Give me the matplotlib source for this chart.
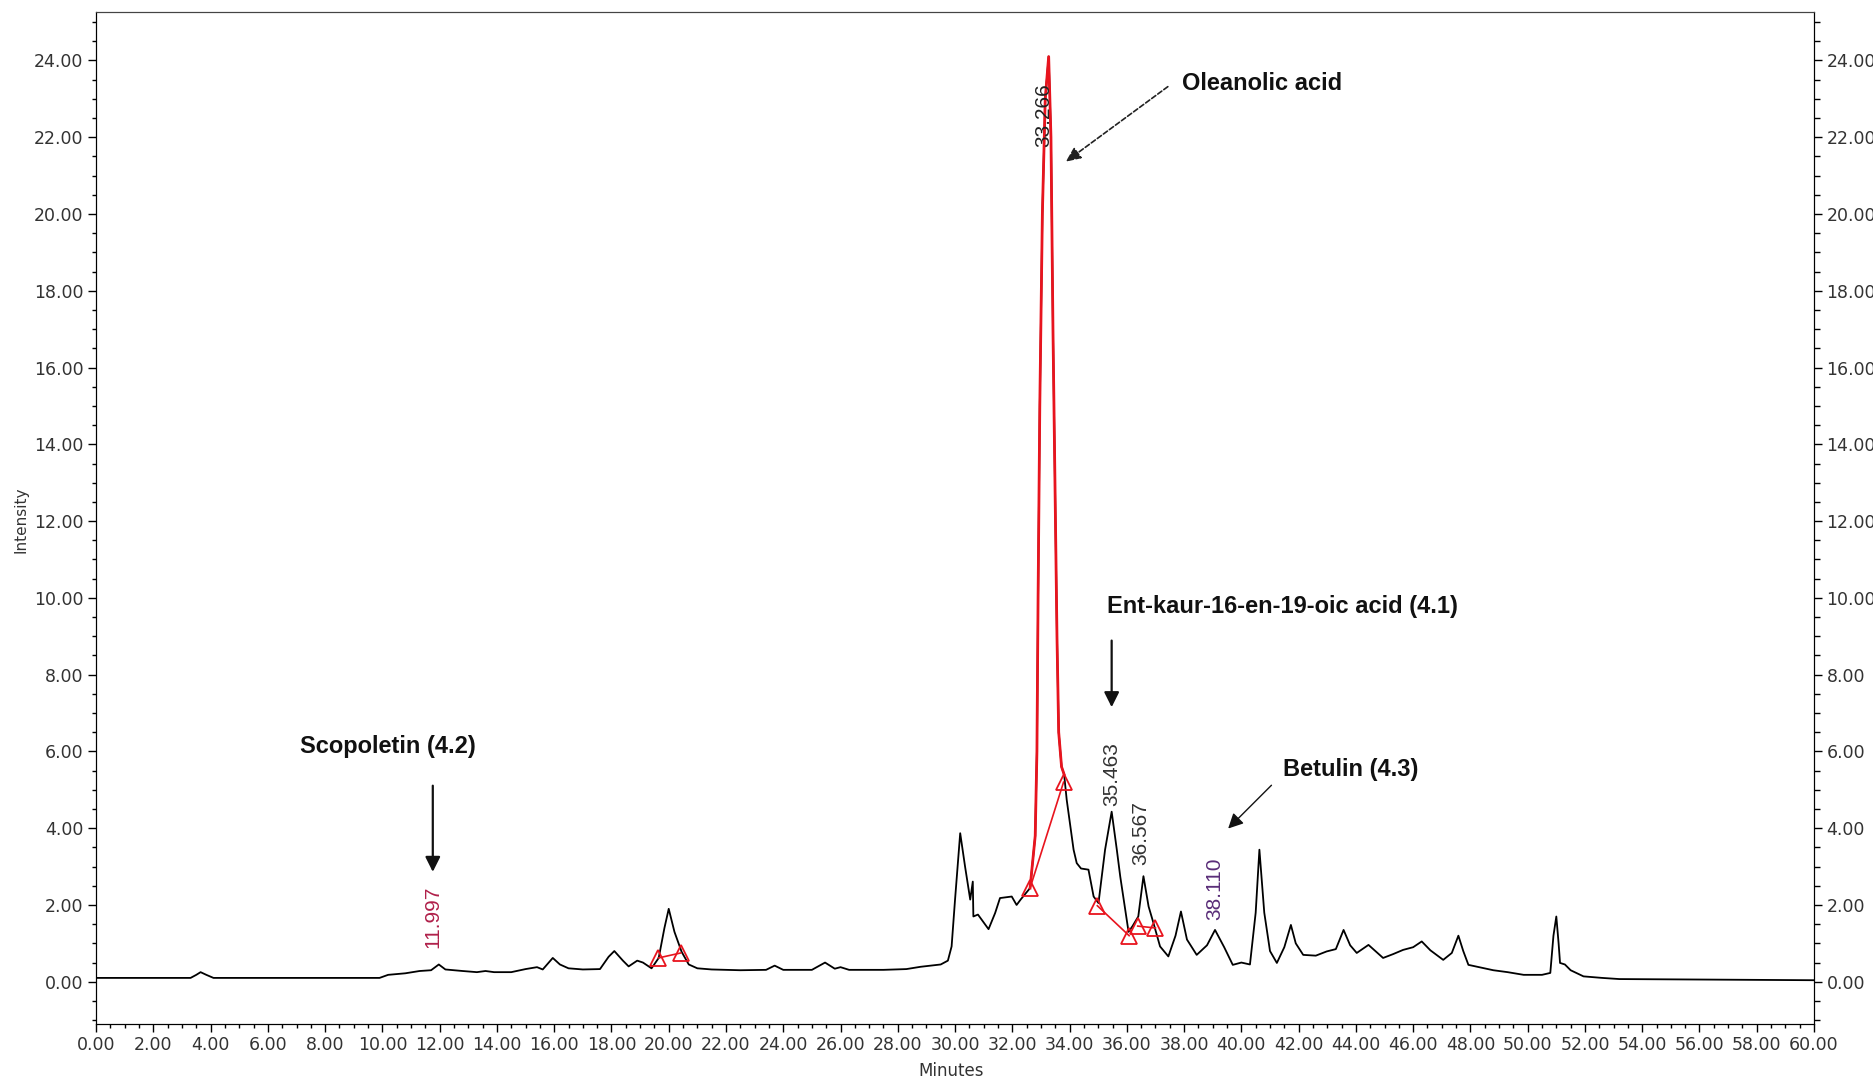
import numpy as np
import matplotlib
matplotlib.use("Agg")
import matplotlib.pyplot as plt
from matplotlib.ticker import MultipleLocator, FormatStrFormatter

# chromatogram trace (minutes, intensity)
times = [0.0, 3.3, 3.5, 3.65, 3.85, 4.1, 9.9, 10.2, 10.8, 11.3, 11.7, 11.97, 12.2,
         12.8, 13.3, 13.6, 13.9, 14.5, 15.0, 15.4, 15.6, 15.95, 16.2, 16.5, 17.0,
         17.6, 17.9, 18.1, 18.4, 18.6, 18.9, 19.1, 19.4, 19.65, 19.85, 20.0, 20.2,
         20.45, 20.7, 21.0, 21.5, 22.5, 23.4, 23.7, 24.0, 25.0, 25.46, 25.8, 26.0,
         26.3, 27.5, 28.3, 28.8, 29.5, 29.75, 29.88, 30.0, 30.18, 30.35, 30.53,
         30.62, 30.64, 30.8, 31.17, 31.4, 31.57, 31.98, 32.15, 32.3, 32.62, 32.8,
         32.86, 32.9, 32.96, 33.05, 33.15, 33.27, 33.35, 33.42, 33.49, 33.56, 33.62,
         33.72, 33.81, 33.9, 34.14, 34.25, 34.4, 34.66, 34.84, 35.01, 35.24, 35.47,
         35.65, 35.77, 36.06, 36.2, 36.4, 36.58, 36.76, 36.93, 37.16, 37.45, 37.7,
         37.89, 38.1, 38.44, 38.8, 39.08, 39.4, 39.7, 40.0, 40.3, 40.5, 40.63, 40.8,
         41.0, 41.24, 41.5, 41.73, 41.9, 42.16, 42.6, 42.98, 43.3, 43.57, 43.8,
         44.03, 44.44, 44.95, 45.3, 45.65, 46.0, 46.3, 46.6, 47.05, 47.35, 47.58,
         47.75, 47.93, 48.3, 48.8, 49.3, 49.86, 50.5, 50.79, 50.9, 51.0, 51.08,
         51.13, 51.3, 51.5, 51.95, 52.6, 53.2, 60.0]
intensity = [0.10, 0.10, 0.18, 0.25, 0.18, 0.10, 0.10, 0.18, 0.22, 0.28, 0.30, 0.45, 0.32,
             0.28, 0.25, 0.28, 0.25, 0.25, 0.33, 0.38, 0.32, 0.62, 0.45, 0.35, 0.32,
             0.33, 0.65, 0.80, 0.55, 0.40, 0.55, 0.50, 0.35, 0.62, 1.40, 1.90, 1.30,
             0.78, 0.45, 0.35, 0.32, 0.30, 0.31, 0.42, 0.31, 0.31, 0.50, 0.34, 0.38,
             0.31, 0.31, 0.33, 0.39, 0.45, 0.55, 0.92, 2.14, 3.87, 3.00, 2.14,
             2.61, 1.70, 1.75, 1.37, 1.79, 2.18, 2.22, 2.00, 2.15, 2.44, 3.80,
             6.0, 10.0, 15.0, 20.0, 23.0, 24.1, 22.0, 17.0, 13.0, 9.0, 6.5,
             5.6, 5.4, 4.74, 3.44, 3.09, 2.95, 2.92, 2.22, 2.05, 3.44, 4.43,
             3.44, 2.74, 1.30, 1.45, 1.70, 2.75, 1.96, 1.53, 0.92, 0.66, 1.20,
             1.83, 1.10, 0.70, 0.95, 1.35, 0.90, 0.44, 0.50, 0.45, 1.80, 3.44, 1.80,
             0.80, 0.49, 0.90, 1.48, 1.00, 0.70, 0.68, 0.79, 0.85, 1.35, 0.95,
             0.75, 0.96, 0.62, 0.72, 0.83, 0.90, 1.05, 0.82, 0.57, 0.75, 1.20,
             0.80, 0.44, 0.38, 0.30, 0.25, 0.18, 0.18, 0.23, 1.20, 1.70, 1.00,
             0.49, 0.45, 0.30, 0.14, 0.10, 0.07, 0.04]

# integrated main peak (drawn in red)
main_peak_start = 32.62
main_peak_end = 33.81

# baseline markers and integration baselines
marker_t = [19.64, 20.42, 32.62, 33.79, 34.97, 36.08, 36.38, 37.0]
marker_i = [0.62, 0.75, 2.44, 5.20, 1.98, 1.20, 1.45, 1.40]
baseline_pairs = [(0, 1), (2, 3), (4, 5), (6, 7)]

# retention time labels
rt_labels = ["11.997", "33.266", "35.463", "36.567", "38.110"]
rt_x = [11.75, 33.1, 35.47, 36.49, 39.08]
rt_y = [0.88, 21.75, 4.58, 3.05, 1.61]
rt_colors = ["#b0204a", "#222222", "#333333", "#333333", "#5a2d78"]

# compound annotations
names = ["Oleanolic acid", "Ent-kaur-16-en-19-oic acid (4.1)", "Betulin (4.3)", "Scopoletin (4.2)"]
name_x = [37.92, 35.30, 41.44, 7.13]
name_y = [23.41, 9.77, 5.52, 6.13]
arrow_from = [(37.51, 23.36), (35.47, 8.96), (41.12, 5.17), (11.76, 5.18)]
arrow_to = [(33.79, 21.32), (35.47, 7.08), (39.47, 3.94), (11.76, 2.79)]
arrow_styles = ["--", "-", "-", "-"]


def main():
    t = np.array(times)
    y = np.array(intensity)

    fig = plt.figure(figsize=(18.73, 10.83), dpi=100)
    ax = fig.add_axes([0.0513, 0.0545, 0.9172, 0.934])

    ax.plot(t, y, color="black", lw=1.3, zorder=2)
    m = (t >= main_peak_start) & (t <= main_peak_end)
    ax.plot(t[m], y[m], color="#e8141e", lw=2.0, zorder=3)

    for a, b in baseline_pairs:
        ax.plot([marker_t[a], marker_t[b]], [marker_i[a], marker_i[b]],
                color="#e8141e", lw=1.2, zorder=3)
    ax.plot(marker_t, marker_i, ls="none", marker="^", ms=11, mfc="none",
            mec="#e8141e", mew=1.3, zorder=4)

    for lab, x0, y0, c in zip(rt_labels, rt_x, rt_y, rt_colors):
        ax.text(x0, y0, lab, rotation=90, ha="center", va="bottom", color=c,
                fontsize=15, family="Liberation Sans", zorder=5)

    for name, x0, y0 in zip(names, name_x, name_y):
        ax.text(x0, y0, name, ha="left", va="center", fontsize=17,
                fontweight="bold", family="Liberation Sans", color="#111111")

    for p0, p1, ls in zip(arrow_from, arrow_to, arrow_styles):
        if ls == "--":
            ax.annotate("", xy=p1, xytext=p0,
                        arrowprops=dict(arrowstyle="-|>,head_length=0.9,head_width=0.4",
                                        color="#222222", lw=1.2, ls=(0, (3, 1.5))))
        else:
            ax.annotate("", xy=p1, xytext=p0,
                        arrowprops=dict(arrowstyle="-|>,head_length=0.9,head_width=0.45",
                                        color="#111111", lw=1.6 if p0[0] == p1[0] else 1.0))

    ax.set_xlim(0, 60)
    ax.set_ylim(-1.1, 25.25)

    ax.xaxis.set_major_locator(MultipleLocator(2))
    ax.xaxis.set_minor_locator(MultipleLocator(0.5))
    ax.yaxis.set_major_locator(MultipleLocator(2))
    ax.yaxis.set_minor_locator(MultipleLocator(0.5))
    ax.xaxis.set_major_formatter(FormatStrFormatter("%.2f"))
    ax.yaxis.set_major_formatter(FormatStrFormatter("%.2f"))
    ax.tick_params(which="major", length=6, width=1, labelsize=12.5,
                   labelcolor="#333333", pad=3)
    ax.tick_params(which="minor", length=3, width=1)

    ax2 = ax.twinx()
    ax2.set_ylim(ax.get_ylim())
    ax2.yaxis.set_major_locator(MultipleLocator(2))
    ax2.yaxis.set_minor_locator(MultipleLocator(0.5))
    ax2.yaxis.set_major_formatter(FormatStrFormatter("%.2f"))
    ax2.tick_params(which="major", length=6, width=1, labelsize=12.5,
                    labelcolor="#333333", pad=3)
    ax2.tick_params(which="minor", length=4, width=1)

    for s in ["left", "right", "bottom"]:
        ax.spines[s].set_color("black")
        ax2.spines[s].set_color("black")
    ax.spines["top"].set_color("#444444")
    ax2.spines["top"].set_color("#444444")

    fig.text(21 / 1873, 1 - 520 / 1083, "Intensity", rotation=90, ha="center",
             va="center", fontsize=11, color="#333333")
    fig.text(951 / 1873, 1 - 1071 / 1083, "Minutes", ha="center", va="center",
             fontsize=12, color="#333333")

    fig.savefig("out.png", dpi=100, facecolor="white")


if __name__ == "__main__":
    main()
